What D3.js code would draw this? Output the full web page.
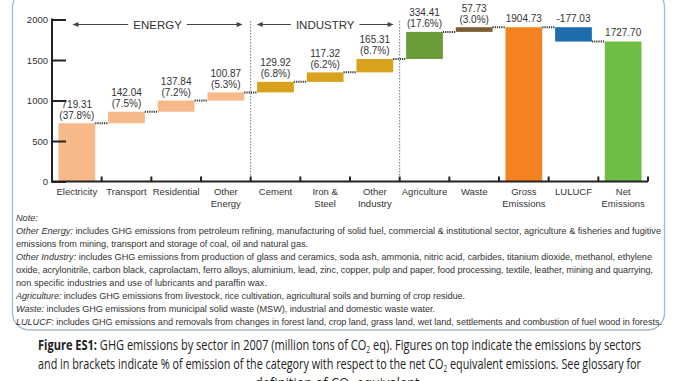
<!DOCTYPE html>
<html>
<head>
<meta charset="utf-8">
<script src="https://cdn.jsdelivr.net/npm/d3@7"></script>
<style>
  html, body { margin: 0; padding: 0; background: #fff; }
  svg { display: block; }
</style>
</head>
<body>
<svg id="chart" width="678" height="381"></svg>
<script>
// ---------------- DATA ----------------
const categories = ["Electricity", "Transport", "Residential", "Other Energy", "Cement", "Iron & Steel",
  "Other Industry", "Agriculture", "Waste", "Gross Emissions", "LULUCF", "Net Emissions"];
const axisLabels = [["Electricity"], ["Transport"], ["Residential"], ["Other", "Energy"], ["Cement"],
  ["Iron &", "Steel"], ["Other", "Industry"], ["Agriculture"], ["Waste"], ["Gross", "Emissions"],
  ["LULUCF"], ["Net", "Emissions"]];
const values = [719.31, 142.04, 137.84, 100.87, 129.92, 117.32, 165.31, 334.41, 57.73, 1904.73, -177.03, 1727.70];
const valueLabels = ["719.31", "142.04", "137.84", "100.87", "129.92", "117.32", "165.31", "334.41", "57.73",
  "1904.73", "-177.03", "1727.70"];
const percentLabels = ["(37.8%)", "(7.5%)", "(7.2%)", "(5.3%)", "(6.8%)", "(6.2%)", "(8.7%)", "(17.6%)", "(3.0%)", "", "", ""];
const barKinds = ["step", "step", "step", "step", "step", "step", "step", "step", "step", "total", "step", "total"];
const groups = ["energy", "energy", "energy", "energy", "industry", "industry", "industry",
  "agriculture", "waste", "gross", "lulucf", "net"];
const groupNames = ["ENERGY", "INDUSTRY"];
const yTicks = [0, 500, 1000, 1500, 2000];

const noteTitle = "Note:";
const notes = [
  ["Other Energy:", " includes GHG emissions from petroleum refining, manufacturing of solid fuel, commercial & institutional sector, agriculture & fisheries and fugitive"],
  ["", "emissions from mining, transport and storage of coal, oil and natural gas."],
  ["Other Industry:", " includes GHG emissions from production of glass and ceramics, soda ash, ammonia, nitric acid, carbides, titanium dioxide, methanol, ethylene"],
  ["", "oxide, acrylonitrile, carbon black, caprolactam, ferro alloys, aluminium, lead, zinc, copper, pulp and paper, food processing, textile, leather, mining and quarrying,"],
  ["", "non specific industries and use of  lubricants and paraffin wax."],
  ["Agriculture:", " includes GHG emissions from livestock, rice cultivation, agricultural soils and burning of crop residue."],
  ["Waste:", " includes GHG emissions from municipal solid waste (MSW), industrial and domestic waste water."],
  ["LULUCF:", " includes GHG emissions and removals from changes in forest land, crop land, grass land, wet land, settlements and combustion of fuel wood in forests."]
];
const noteWidths = [645, 292, 636, 637, 251, 449, 419, 646];

// ---------------- STYLE ----------------
const colors = {
  energy: "#F8B98A", industry: "#D9A21C", agriculture: "#6B9B36", waste: "#7C5E34",
  gross: "#F58220", lulucf: "#1F6CAD", net: "#6EBE46"
};
const textColor = "#333";
const font = "'Liberation Sans', Arial, sans-serif";

// ---------------- BUILD ----------------
let cum = 0;
const bars = categories.map((c, i) => {
  let start, end;
  if (barKinds[i] === "total") { start = 0; end = values[i]; }
  else { start = cum; end = cum + values[i]; }
  cum = end;
  return { cat: c, i, start, end, lo: Math.min(start, end), hi: Math.max(start, end), group: groups[i] };
});

const svg = d3.select("#chart");

// frame
svg.append("rect")
  .attr("x", 12.5).attr("y", -10).attr("width", 652).attr("height", 340)
  .attr("rx", 17).attr("ry", 17)
  .attr("fill", "none").attr("stroke", "#9EBCD2").attr("stroke-width", 1.3);

const x = d3.scaleBand().domain(categories).range([52, 648]).paddingInner(0.26).paddingOuter(0.13);
const y = d3.scaleLinear().domain([0, 2000]).range([181.5, 19.5]);
const step = x.step();
const boundary = k => 52 + k * step;

const g = svg.append("g");

// group separators (dotted vertical)
[4, 7].forEach(k => {
  g.append("line")
    .attr("x1", boundary(k)).attr("x2", boundary(k))
    .attr("y1", 21).attr("y2", y(0))
    .attr("stroke", "#777").attr("stroke-width", 1).attr("stroke-dasharray", "1.5,1.5");
});

// group brackets
function bracket(x1, x2, label, yy) {
  const t = g.append("text")
    .attr("x", (x1 + x2) / 2).attr("y", yy + 4)
    .attr("text-anchor", "middle").attr("font-family", font).attr("font-size", 11.5)
    .attr("fill", textColor).text(label);
  const w = t.node().getComputedTextLength();
  const cx = (x1 + x2) / 2;
  g.append("line").attr("x1", x1 + 5).attr("x2", cx - w / 2 - 5).attr("y1", yy).attr("y2", yy)
    .attr("stroke", "#444").attr("stroke-width", 1);
  g.append("line").attr("x1", cx + w / 2 + 5).attr("x2", x2 - 5).attr("y1", yy).attr("y2", yy)
    .attr("stroke", "#444").attr("stroke-width", 1);
  g.append("path").attr("d", `M${x1},${yy}L${x1 + 6},${yy - 2.5}L${x1 + 6},${yy + 2.5}Z`).attr("fill", "#444");
  g.append("path").attr("d", `M${x2},${yy}L${x2 - 6},${yy - 2.5}L${x2 - 6},${yy + 2.5}Z`).attr("fill", "#444");
}
bracket(x(categories[0]) + 14, boundary(4) - 8, groupNames[0], 24.5);
bracket(boundary(4) + 6, boundary(7) - 6, groupNames[1], 24.5);

// bars
g.selectAll("rect.bar").data(bars).join("rect")
  .attr("class", "bar")
  .attr("x", d => x(d.cat))
  .attr("width", x.bandwidth())
  .attr("y", d => y(d.hi))
  .attr("height", d => y(d.lo) - y(d.hi))
  .attr("fill", d => colors[d.group]);

// connectors
for (let i = 0; i < bars.length - 1; i++) {
  const lvl = bars[i].end;
  g.append("line")
    .attr("x1", x(bars[i].cat) + x.bandwidth()).attr("x2", x(bars[i + 1].cat))
    .attr("y1", y(lvl)).attr("y2", y(lvl))
    .attr("stroke", "#333").attr("stroke-width", 2).attr("stroke-dasharray", "1.2,1");
}

// value labels
bars.forEach((d, i) => {
  const top = y(d.hi);
  const cx = x(d.cat) + x.bandwidth() / 2;
  const t = g.append("text").attr("text-anchor", "middle").attr("font-family", font)
    .attr("font-size", 10).attr("fill", textColor);
  if (percentLabels[i]) {
    t.append("tspan").attr("x", cx).attr("y", top - 15.5).text(valueLabels[i]);
    t.append("tspan").attr("x", cx).attr("y", top - 4.5).text(percentLabels[i]);
  } else {
    t.append("tspan").attr("x", cx).attr("y", top - 5.5).text(valueLabels[i]);
  }
});

// y axis
const yAxis = g.append("g").attr("transform", "translate(52,0)")
  .call(d3.axisLeft(y).tickValues(yTicks).tickSize(-14).tickPadding(4).tickFormat(d3.format("d")));
yAxis.select(".domain").remove();
yAxis.selectAll(".tick line").attr("stroke", "#222").attr("stroke-width", 2);
yAxis.selectAll(".tick text").attr("font-family", font).attr("font-size", 9.5).attr("fill", textColor);
g.append("line").attr("x1", 52).attr("x2", 52).attr("y1", y(2000) - 1).attr("y2", y(0) + 1)
  .attr("stroke", "#222").attr("stroke-width", 2);

// x axis
g.append("line").attr("x1", 51).attr("x2", 648).attr("y1", y(0)).attr("y2", y(0))
  .attr("stroke", "#222").attr("stroke-width", 2);
d3.range(1, categories.length + 1).forEach(k => {
  g.append("line").attr("x1", boundary(k)).attr("x2", boundary(k))
    .attr("y1", y(0)).attr("y2", y(0) - 5).attr("stroke", "#222").attr("stroke-width", 2);
});
categories.forEach((c, i) => {
  const t = g.append("text").attr("text-anchor", "middle").attr("font-family", font)
    .attr("font-size", 9.5).attr("fill", textColor);
  axisLabels[i].forEach((line, j) => {
    t.append("tspan").attr("x", x(c) + x.bandwidth() / 2).attr("y", 195 + j * 11.6).text(line);
  });
});

// notes: size so the first full line fits naturally, then fit each line to its measured width
const probe = svg.append("text").attr("font-family", font).attr("font-size", 10);
probe.append("tspan").attr("font-style", "italic").text(notes[0][0]);
probe.append("tspan").text(notes[0][1]);
const nf = Math.min(10, 10 * noteWidths[0] / probe.node().getComputedTextLength());
probe.remove();

svg.append("text").attr("x", 16).attr("y", 221).attr("font-family", font).attr("font-size", nf)
  .attr("font-style", "italic").attr("fill", textColor).text(noteTitle);
notes.forEach((n, i) => {
  const t = svg.append("text").attr("x", 16).attr("y", 234 + i * 13).attr("font-family", font)
    .attr("font-size", nf).attr("fill", textColor)
    .attr("textLength", noteWidths[i]).attr("lengthAdjust", "spacing");
  if (n[0]) t.append("tspan").attr("font-style", "italic").text(n[0]);
  t.append("tspan").text(n[1]);
});

// caption
const capFont = "'Open Sans', 'Noto Sans', sans-serif";
const cap1 = svg.append("text").attr("x", 38).attr("y", 350).attr("font-family", capFont)
  .attr("font-size", 15).attr("fill", "#222").attr("textLength", 603).attr("lengthAdjust", "spacingAndGlyphs");
cap1.append("tspan").attr("font-weight", "bold").text("Figure ES1:");
cap1.append("tspan").text(" GHG emissions by sector in 2007 (million tons of CO");
cap1.append("tspan").attr("font-size", 9).attr("dy", 3).text("2");
cap1.append("tspan").attr("dy", -3).text(" eq). Figures on top indicate the emissions by sectors");

const cap2 = svg.append("text").attr("x", 38).attr("y", 369).attr("font-family", capFont)
  .attr("font-size", 15).attr("fill", "#222").attr("textLength", 603).attr("lengthAdjust", "spacingAndGlyphs");
cap2.append("tspan").text("and in brackets indicate % of emission of the category with respect to the net CO");
cap2.append("tspan").attr("font-size", 9).attr("dy", 3).text("2");
cap2.append("tspan").attr("dy", -3).text(" equivalent emissions. See glossary for");

const cap3 = svg.append("text").attr("x", 339).attr("y", 388).attr("text-anchor", "middle").attr("font-family", capFont)
  .attr("font-size", 15).attr("fill", "#222").attr("textLength", 168).attr("lengthAdjust", "spacingAndGlyphs");
cap3.append("tspan").text("definition of CO");
cap3.append("tspan").attr("font-size", 9).attr("dy", 3).text("2");
cap3.append("tspan").attr("dy", -3).text(" equivalent.");
</script>
</body>
</html>
